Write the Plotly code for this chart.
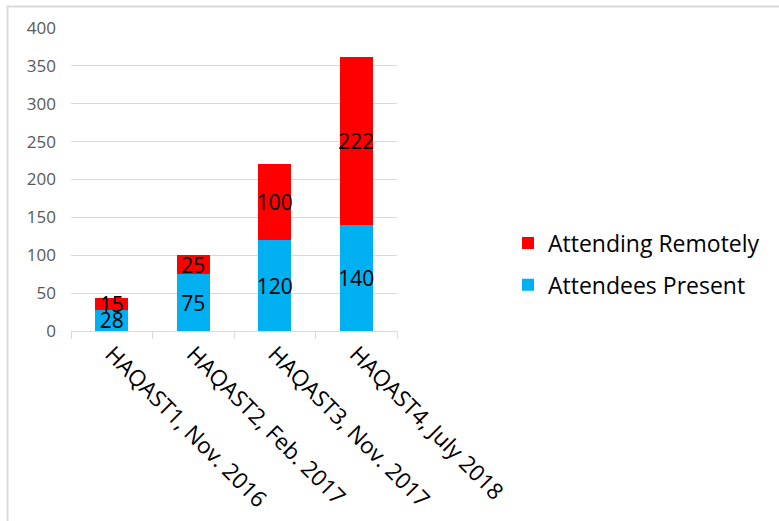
import plotly.graph_objects as go

categories = ["HAQAST1, Nov. 2016", "HAQAST2, Feb. 2017", "HAQAST3, Nov. 2017", "HAQAST4, July 2018"]
present = [28, 75, 120, 140]
remote = [15, 25, 100, 222]
y_ticks = [0, 50, 100, 150, 200, 250, 300, 350, 400]

W, H = 779, 521
ML, MR, MT, MB = 71, 382, 28, 190
PW, PH = W - ML - MR, H - MT - MB

def px_x(p):
    return (p - ML) / PW

def px_y(p):
    return (H - MB - p) / PH

FONT = "Open Sans"

fig = go.Figure()
fig.add_trace(go.Bar(
    x=categories, y=present, name="Attendees Present",
    marker=dict(color="#00B0F0", line=dict(width=0)),
    text=[str(v) for v in present], textposition="inside", textangle=0,
    insidetextanchor="middle", constraintext="none",
    textfont=dict(family=FONT, size=21, color="black"),
    legendgroup="a", legendrank=2,
))
fig.add_trace(go.Bar(
    x=categories, y=remote, name="Attending Remotely",
    marker=dict(color="#FF0000", line=dict(width=0)),
    text=[str(v) for v in remote], textposition="inside", textangle=0,
    insidetextanchor="middle", constraintext="none",
    textfont=dict(family=FONT, size=21, color="black"),
    legendgroup="b", legendrank=1,
))

fig.update_layout(
    width=W, height=H,
    margin=dict(l=ML, r=MR, t=MT, b=MB, autoexpand=False),
    barmode="stack", bargap=0.6,
    plot_bgcolor="white", paper_bgcolor="white",
    font=dict(family=FONT),
    showlegend=True,
    legend=dict(
        x=px_x(508), y=px_y(264), xanchor="left", yanchor="middle",
        traceorder="grouped", tracegroupgap=9,
        font=dict(family=FONT, size=23, color="black"),
        bgcolor="rgba(0,0,0,0)",
    ),
    xaxis=dict(
        type="category", tickangle=45, tickson="boundaries",
        ticks="outside", ticklen=7, tickcolor="#d9d9d9",
        showline=True, linecolor="#d9d9d9", linewidth=1,
        showgrid=False,
        tickfont=dict(family=FONT, size=22.5, color="black"),
    ),
    yaxis=dict(
        range=[0, 400], tickvals=y_ticks,
        showgrid=True, gridcolor="#d9d9d9", gridwidth=1,
        zeroline=False, showline=False,
        ticklabelstandoff=14,
        tickfont=dict(family=FONT, size=17, color="#595959"),
    ),
    shapes=[dict(
        type="rect", xref="paper", yref="paper",
        x0=px_x(7.5), x1=px_x(800), y0=px_y(540), y1=px_y(6.5),
        line=dict(color="#d9d9d9", width=2), fillcolor="rgba(0,0,0,0)",
        layer="below",
    )],
)

fig.write_html("out.html")
